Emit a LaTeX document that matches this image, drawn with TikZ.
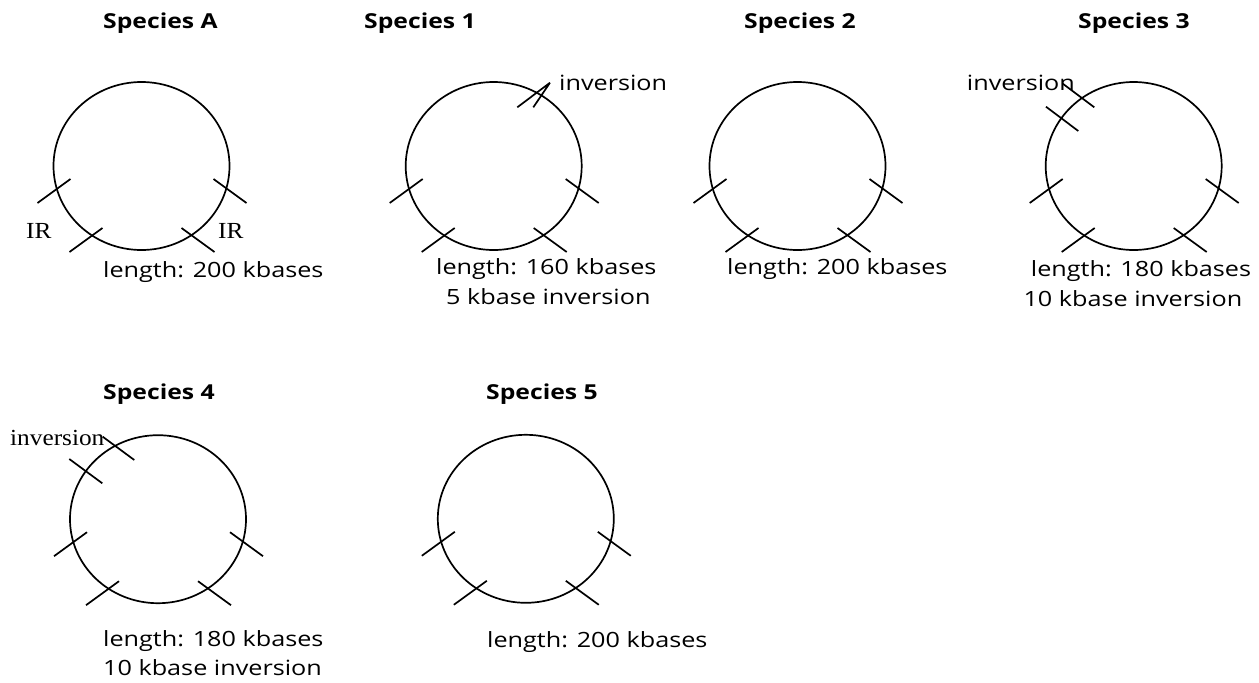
\documentclass[tikz,border=0pt]{standalone}
\usepackage{fontspec}
\setmainfont{Liberation Serif}[FakeStretch=1.1]
\setsansfont{Open Sans}[FakeStretch=1.2]
\usetikzlibrary{shapes.geometric}
\tikzset{
  ring/.style={draw, ellipse, line width=1.7pt, minimum width=176pt, minimum height=168pt, inner sep=0pt},
  tick/.style={line width=1.7pt},
  title/.style={font=\sffamily\bfseries\fontsize{20.6}{24}\selectfont, anchor=base west, inner sep=0pt},
  lbl/.style={font=\sffamily\fontsize{21}{25}\selectfont, anchor=base west, inner sep=0pt},
  slbl/.style={font=\rmfamily\fontsize{23}{27}\selectfont, anchor=base west, inner sep=0pt},
  ticks/.style={insert path={
    (-104,37) -- (-71,13)  (-72,86) -- (-39,62)
    (40,62) -- (73,86)  (72,13) -- (105,37)}}
}
\begin{document}
\begin{tikzpicture}[x=1pt,y=-1pt]
\useasboundingbox (0,0) rectangle (1259,683);
% circles
\node[ring] (cA) at (141.5,166) {};
\node[ring] (c1) at (493.7,166) {};
\node[ring] (c2) at (797.5,166) {};
\node[ring] (c3) at (1133.7,166) {};
\node[ring] (c4) at (158,519.2) {};
\node[ring] (c5) at (525.8,518.8) {};
% ticks
\foreach \c in {cA,c1,c2,c3,c4,c5}{
  \draw[tick, shift={(\c.center)}, ticks];
}
% inversion ticks
\draw[tick, shift={(c1.center)}] (23.6,-58.7) -- (56.3,-83.3) (39.6,-58.7) -- (56.3,-83.3);
\draw[tick, shift={(c3.center)}] (-71.4,-82.7) -- (-39.4,-58.7) (-87.7,-59.3) -- (-55.4,-35);
\draw[tick, shift={(c4.center)}] (-55.3,-82.5) -- (-23.7,-59.2) (-88.7,-60.2) -- (-55.7,-35.9);
% titles
\node[title] (tA) at (103,28) {Species A};
\node[title] (t1) at (364,28) {Species 1};
\node[title] (t2) at (744,28) {Species 2};
\node[title] (t3) at (1078,28) {Species 3};
\node[title] (t4) at (103,399) {Species 4};
\node[title] (t5) at (486,399) {Species 5};
% labels
\node[slbl] (irL) at (26,238) {IR};
\node[slbl] (irR) at (218,238) {IR};
\node[lbl] (lA) at (103,277) {length: 200 kbases};
\node[lbl] (inv1) at (559,90) {inversion};
\node[lbl] (l1) at (436,274) {length: 160 kbases};
\node[lbl] (k1) at (446,304) {5 kbase inversion};
\node[lbl] (l2) at (727,274) {length: 200 kbases};
\node[lbl] (inv3) at (966.7,90) {inversion};
\node[lbl] (l3) at (1030.7,276) {length: 180 kbases};
\node[lbl] (k3) at (1023.3,306) {10 kbase inversion};
\node[slbl] (inv4) at (10,445) {inversion};
\node[lbl] (l4) at (103,646.7) {length: 180 kbases};
\node[lbl] (k4) at (103,675) {10 kbase inversion};
\node[lbl] (l5) at (487,647) {length: 200 kbases};
\end{tikzpicture}
\end{document}
